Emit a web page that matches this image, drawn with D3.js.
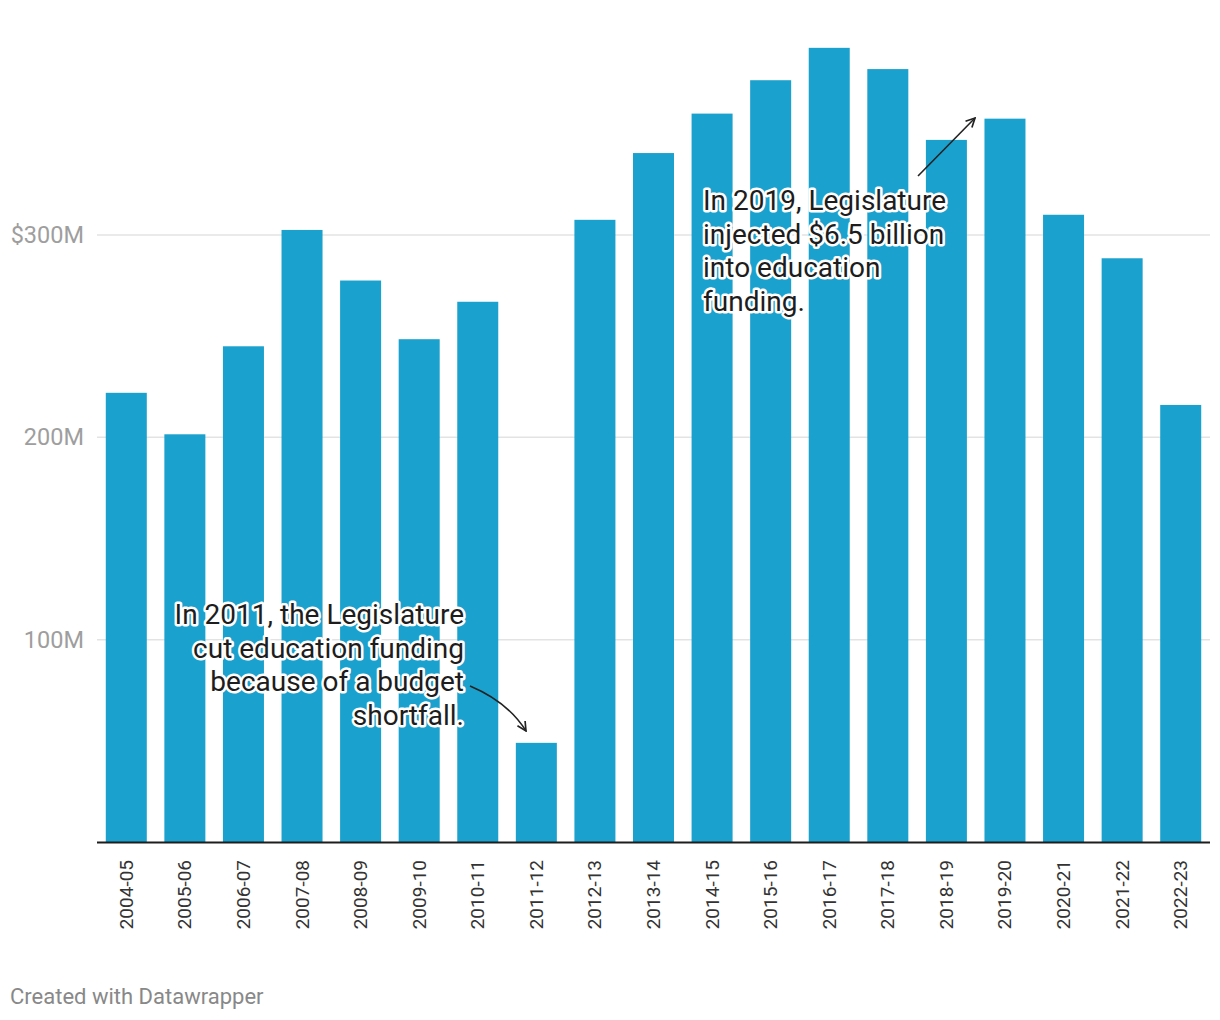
<!DOCTYPE html>
<html>
<head>
<meta charset="utf-8">
<script src="https://cdn.jsdelivr.net/npm/d3@7"></script>
<style>
  body { margin: 0; background: #fff; font-family: Roboto, sans-serif; }
  .halo { paint-order: stroke; stroke: #fff; stroke-width: 5px; stroke-linejoin: round; }
</style>
</head>
<body>
<svg id="chart" width="1220" height="1020"></svg>
<script>
// school years
var years = ['2004-05', '2005-06', '2006-07', '2007-08', '2008-09', '2009-10', '2010-11',
    '2011-12', '2012-13', '2013-14', '2014-15', '2015-16', '2016-17', '2017-18',
    '2018-19', '2019-20', '2020-21', '2021-22', '2022-23'];

// funding, millions of dollars
var funding = [222, 201.5, 245, 302.5, 277.5, 248.5, 267, 49, 307.5, 340.5, 360, 376.5,
    392.5, 382, 347, 357.5, 310, 288.5, 216];

var yTicks = [100, 200, 300];
var yTickLabels = ['100M', '200M', '$300M'];

var notes = [
    {lines: ['In 2011, the Legislature', 'cut education funding', 'because of a budget', 'shortfall.'],
     x: 464, y: 624, anchor: 'end'},
    {lines: ['In 2019, Legislature', 'injected $6.5 billion', 'into education', 'funding.'],
     x: 703, y: 210, anchor: 'start'}
];

var svg = d3.select('#chart');

var x = d3.scaleBand()
    .domain(years)
    .range([97, 1210])
    .paddingInner(0.3)
    .paddingOuter(0.15);

var y = d3.scaleLinear()
    .domain([0, 300])
    .range([842, 235]);

// grid lines
svg.append('g')
    .selectAll('line')
    .data(yTicks)
    .enter()
    .append('line')
    .attr('x1', 97)
    .attr('x2', 1210)
    .attr('y1', function (d) { return y(d); })
    .attr('y2', function (d) { return y(d); })
    .attr('stroke', '#e3e3e3')
    .attr('stroke-width', 1.5);

// y labels
svg.append('g')
    .selectAll('text')
    .data(yTicks)
    .enter()
    .append('text')
    .attr('x', 84)
    .attr('y', function (d) { return y(d) + 8; })
    .attr('text-anchor', 'end')
    .attr('font-size', 23.5)
    .attr('fill', '#9e9e9e')
    .text(function (d, i) { return yTickLabels[i]; });

// bars
svg.append('g')
    .selectAll('rect')
    .data(funding)
    .enter()
    .append('rect')
    .attr('x', function (d, i) { return x(years[i]); })
    .attr('width', x.bandwidth())
    .attr('y', function (d) { return y(d); })
    .attr('height', function (d) { return y(0) - y(d); })
    .attr('fill', '#1aa1cd');

// baseline
svg.append('line')
    .attr('x1', 97)
    .attr('x2', 1210)
    .attr('y1', y(0) + 0.5)
    .attr('y2', y(0) + 0.5)
    .attr('stroke', '#1d1d1d')
    .attr('stroke-width', 2);

// x labels, rotated
svg.append('g')
    .selectAll('text')
    .data(years)
    .enter()
    .append('text')
    .attr('transform', function (d) {
        return 'translate(' + (x(d) + x.bandwidth() / 2 + 6.5) + ',' + 860 + ') rotate(-90)';
    })
    .attr('text-anchor', 'end')
    .attr('font-size', 19)
    .attr('fill', '#333')
    .text(function (d) { return d; });

// arrow marker
svg.append('defs')
    .append('marker')
    .attr('id', 'head')
    .attr('viewBox', '0 0 10 10')
    .attr('refX', 9)
    .attr('refY', 5)
    .attr('markerWidth', 7)
    .attr('markerHeight', 7)
    .attr('orient', 'auto')
    .append('path')
    .attr('d', 'M1,1 L9,5 L1,9')
    .attr('fill', 'none')
    .attr('stroke', '#222')
    .attr('stroke-width', 1.5);

svg.append('path')
    .attr('d', 'M470,686 Q508,702 526,731')
    .attr('fill', 'none')
    .attr('stroke', '#222')
    .attr('stroke-width', 1.6)
    .attr('marker-end', 'url(#head)');

svg.append('path')
    .attr('d', 'M918,176 L975,118')
    .attr('fill', 'none')
    .attr('stroke', '#222')
    .attr('stroke-width', 1.6)
    .attr('marker-end', 'url(#head)');

// annotations
notes.forEach(function (note) {
    var t = svg.append('text')
        .attr('class', 'halo')
        .attr('x', note.x)
        .attr('y', note.y)
        .attr('text-anchor', note.anchor)
        .attr('font-size', 28)
        .attr('fill', '#1d1d1d');
    note.lines.forEach(function (line, i) {
        t.append('tspan')
            .attr('x', note.x)
            .attr('dy', i == 0 ? 0 : 33.7)
            .text(line);
    });
});

// credit
svg.append('text')
    .attr('x', 10)
    .attr('y', 1004)
    .attr('font-size', 22)
    .attr('fill', '#888')
    .text('Created with Datawrapper');
</script>
</body>
</html>
